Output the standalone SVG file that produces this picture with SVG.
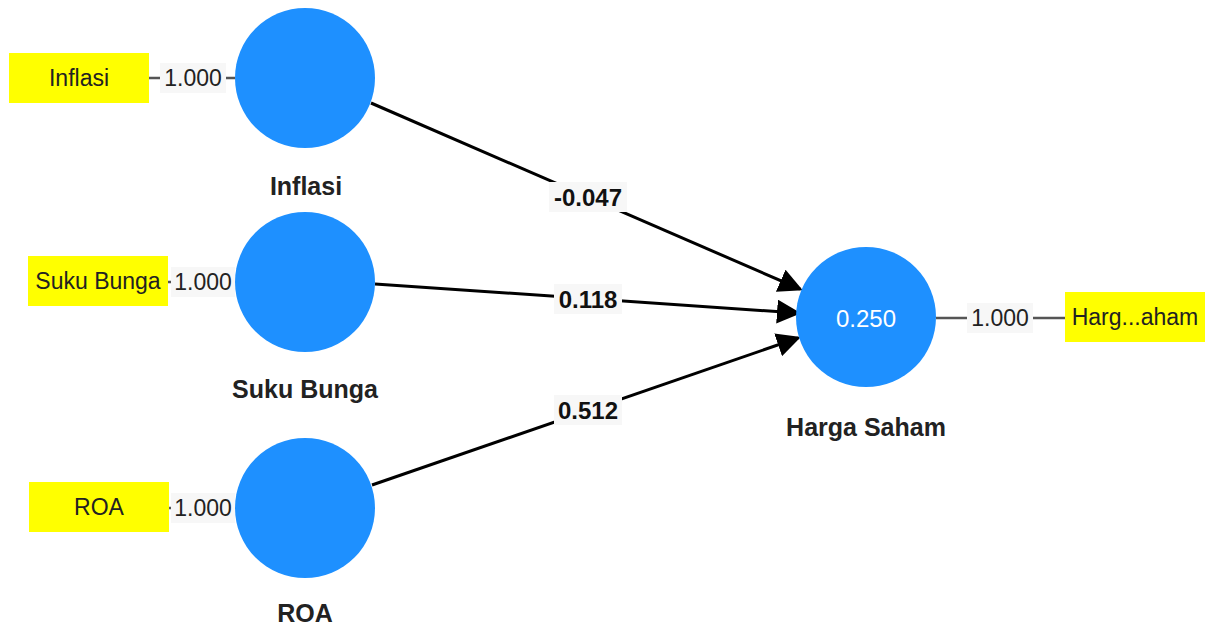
<svg xmlns="http://www.w3.org/2000/svg" width="1207" height="631" viewBox="0 0 1207 631">
<style>
.lv{fill:#1e90ff}
.ind{fill:#ffff00}
.it{font-family:"Liberation Sans",Arial,sans-serif;font-size:23px;fill:#222;text-anchor:middle;dominant-baseline:central}
.nl{font-family:"Liberation Sans",Arial,sans-serif;font-size:25px;font-weight:bold;fill:#222;text-anchor:middle;dominant-baseline:central}
.ol{stroke:#555;stroke-width:2.5;fill:none}
.pl{stroke:#000;stroke-width:3;fill:none}
.lb{fill:#f7f7f7}
.ll{font-family:"Liberation Sans",Arial,sans-serif;font-size:23px;fill:#222;text-anchor:middle;dominant-baseline:central}
.pv{font-family:"Liberation Sans",Arial,sans-serif;font-size:24px;font-weight:bold;fill:#111;text-anchor:middle;dominant-baseline:central}
</style>
<defs>
<marker id="ah" markerWidth="8" markerHeight="8" refX="7" refY="4" orient="auto" markerUnits="strokeWidth">
<path d="M0,0 L8,4 L0,8 z" fill="#000"/>
</marker>
</defs>
<rect width="1207" height="631" fill="#fff"/>
<g id="connectors">
<line class="ol" x1="149" y1="78" x2="235" y2="78"/>
<line class="ol" x1="168" y1="282" x2="235" y2="282"/>
<line class="ol" x1="169" y1="508" x2="235" y2="508"/>
<line class="ol" x1="936" y1="318" x2="1065" y2="318"/>
<rect class="lb" x="160" y="63" width="66" height="30"/>
<text class="ll" x="193" y="78">1.000</text>
<rect class="lb" x="171" y="267" width="64" height="30"/>
<text class="ll" x="203" y="282">1.000</text>
<rect class="lb" x="171" y="493" width="64" height="30"/>
<text class="ll" x="203" y="508">1.000</text>
<rect class="lb" x="967" y="303" width="66" height="30"/>
<text class="ll" x="1000" y="318">1.000</text>
<line class="pl" x1="371" y1="103" x2="800" y2="289" marker-end="url(#ah)"/>
<line class="pl" x1="375" y1="284" x2="798" y2="313" marker-end="url(#ah)"/>
<line class="pl" x1="372" y1="485" x2="798" y2="338" marker-end="url(#ah)"/>
<rect class="lb" x="549" y="182" width="78" height="30"/>
<text class="pv" x="588" y="197">-0.047</text>
<rect class="lb" x="554" y="284" width="68" height="30"/>
<text class="pv" x="588" y="299">0.118</text>
<rect class="lb" x="554" y="395" width="68" height="30"/>
<text class="pv" x="588" y="410">0.512</text>
</g>
<g id="ind-inflasi"><rect class="ind" x="9" y="53" width="140" height="50"/><text class="it" x="79" y="78">Inflasi</text></g>
<g id="ind-suku"><rect class="ind" x="28" y="256" width="140" height="50"/><text class="it" x="98" y="281">Suku Bunga</text></g>
<g id="ind-roa"><rect class="ind" x="29" y="482" width="140" height="50"/><text class="it" x="99" y="507">ROA</text></g>
<g id="ind-harga"><rect class="ind" x="1065" y="292" width="140" height="50"/><text class="it" x="1135" y="317">Harg...aham</text></g>
<g id="lv-inflasi"><circle class="lv" cx="305" cy="78" r="70"/><text class="nl" x="306" y="186">Inflasi</text></g>
<g id="lv-suku"><circle class="lv" cx="305" cy="282" r="70"/><text class="nl" x="305" y="389">Suku Bunga</text></g>
<g id="lv-roa"><circle class="lv" cx="305" cy="508" r="70"/><text class="nl" x="305" y="613">ROA</text></g>
<g id="lv-harga"><circle class="lv" cx="866" cy="317" r="70"/><text class="ll" x="866" y="318" style="fill:#fff;font-size:24px">0.250</text><text class="nl" x="866" y="427">Harga Saham</text></g>
</svg>
